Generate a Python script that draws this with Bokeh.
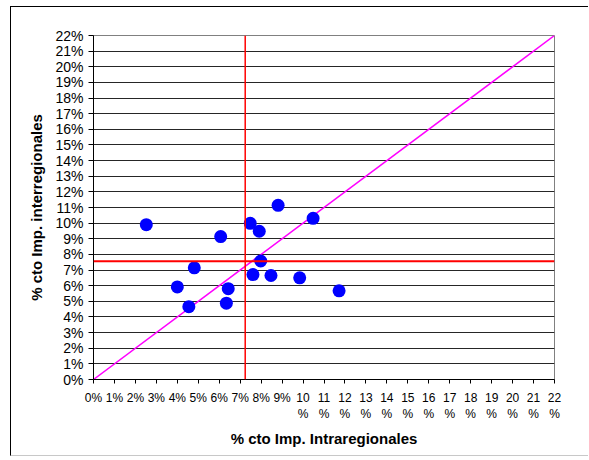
from bokeh.plotting import figure
from bokeh.models import Range1d, FixedTicker, Span
from bokeh.embed import file_html
from bokeh.resources import INLINE

# Data: % cto Imp. Intraregionales (x) vs % cto Imp. interregionales (y)
intra = [2.52, 8.81, 10.48, 7.48, 7.91, 6.07, 7.98, 4.81, 7.61, 8.47, 9.84, 11.72, 4.00, 6.43, 4.55, 6.34]
inter = [9.90, 11.14, 10.31, 9.99, 9.48, 9.14, 7.58, 7.14, 6.71, 6.65, 6.50, 5.67, 5.92, 5.81, 4.66, 4.88]
avg_intra = 7.24
avg_inter = 7.56
diag = [0, 22]
ticks = list(range(0, 23))
x_tick_labels = {t: (f"{t}%" if t < 10 else f"{t}\n%") for t in ticks}
y_tick_labels = {t: f"{t}%" for t in ticks}

FONT = "Liberation Sans"

p = figure(width=578, height=450, output_backend="svg", toolbar_location=None,
           x_range=Range1d(0, 22), y_range=Range1d(0, 22),
           min_border_left=82, min_border_right=35, min_border_top=28, min_border_bottom=78)
p.styles = {"border-left": "1px solid black", "border-top": "1px solid black",
            "border-bottom": "1px solid #c8c8c8",
            "margin-left": "10px", "margin-top": "6px"}

p.xaxis.ticker = FixedTicker(ticks=ticks)
p.yaxis.ticker = FixedTicker(ticks=ticks)
p.xaxis.major_label_overrides = x_tick_labels
p.yaxis.major_label_overrides = y_tick_labels

p.xgrid.visible = False
p.ygrid.grid_line_color = "black"
p.ygrid.grid_line_alpha = 0.85
p.ygrid.grid_line_width = 1

for ax in (p.xaxis, p.yaxis):
    ax.axis_line_color = "black"
    ax.major_tick_line_color = "black"
    ax.minor_tick_line_color = None
    ax.major_tick_in = 0
    ax.major_tick_out = 5
    ax.major_label_text_font = FONT
    ax.major_label_text_font_size = "14px"
    ax.major_label_text_color = "black"
    ax.axis_label_text_font = FONT
    ax.axis_label_text_font_size = "15px"
    ax.axis_label_text_font_style = "bold"
    ax.axis_label_text_color = "black"

p.xaxis.major_label_text_font_size = "12px"
p.xaxis.major_tick_out = 4
p.xaxis.major_label_standoff = 7
p.yaxis.major_label_standoff = 5
p.xaxis.axis_label = "% cto Imp. Intraregionales"
p.yaxis.axis_label = "% cto Imp. interregionales"
p.xaxis.axis_label_standoff = 6
p.yaxis.axis_label_standoff = 7

p.outline_line_color = "#808080"
p.outline_line_width = 1

p.line(diag, diag, line_color="#FF00FF", line_width=1.5)
p.add_layout(Span(location=avg_intra, dimension="height", line_color="red", line_width=1.5))
p.add_layout(Span(location=avg_inter, dimension="width", line_color="red", line_width=2))

p.scatter(intra, inter, size=13, fill_color="#0000FF", line_color=None)

open("out.html", "w").write(file_html(p, INLINE))
